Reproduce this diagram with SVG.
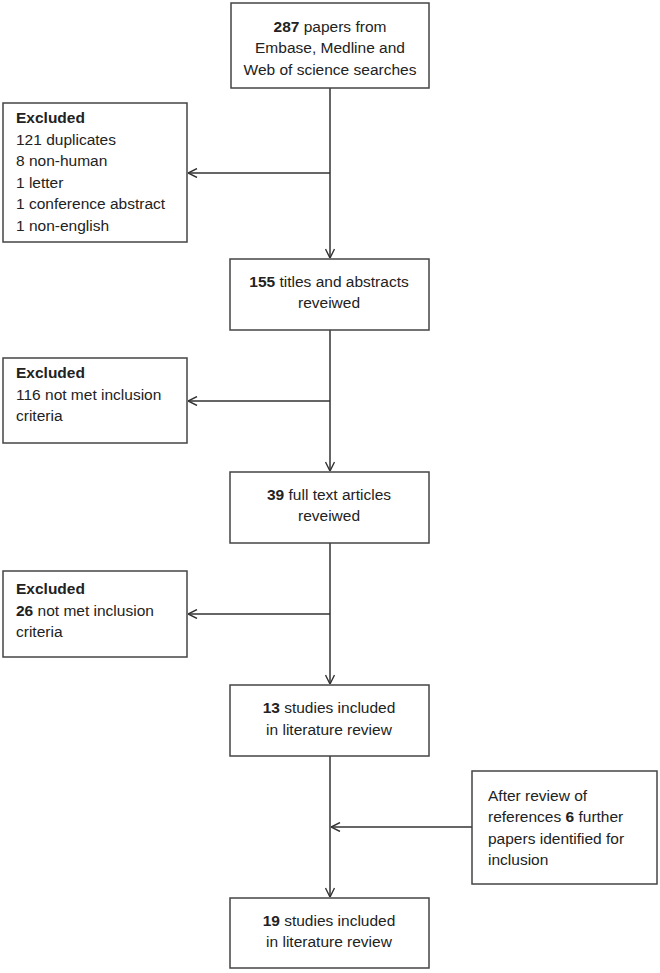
<svg xmlns="http://www.w3.org/2000/svg" width="660" height="973" viewBox="0 0 660 973">
<defs>
<marker id="arr" viewBox="0 0 10 10" refX="10" refY="5" markerWidth="10" markerHeight="10" markerUnits="userSpaceOnUse" orient="auto">
<path d="M1,0.5 L10,5 L1,9.5" fill="none" stroke="#333" stroke-width="1.4"/>
</marker>
<style>
rect{fill:#fff;stroke:#444;stroke-width:1.5}
text{font-family:"Liberation Sans",Arial,sans-serif;font-size:15.5px;fill:#222}
.c{text-anchor:middle}
.b{font-weight:bold}
#connectors line{stroke:#333;stroke-width:1.5}
</style>
</defs>
<rect x="0" y="0" width="660" height="973" style="fill:#fff;stroke:none"/>
<g id="connectors">
<line x1="330" y1="88" x2="330" y2="258" marker-end="url(#arr)"/>
<line x1="330" y1="173" x2="188" y2="173" marker-end="url(#arr)"/>
<line x1="330" y1="330" x2="330" y2="471" marker-end="url(#arr)"/>
<line x1="330" y1="401" x2="188" y2="401" marker-end="url(#arr)"/>
<line x1="330" y1="543" x2="330" y2="684" marker-end="url(#arr)"/>
<line x1="330" y1="614" x2="188" y2="614" marker-end="url(#arr)"/>
<line x1="330" y1="756" x2="330" y2="897" marker-end="url(#arr)"/>
<line x1="472" y1="827" x2="331" y2="827" marker-end="url(#arr)"/>
</g>
<g id="n1">
<rect x="231" y="3" width="198" height="85"/>
<text class="c" x="330" y="32"><tspan class="b">287</tspan> papers from</text>
<text class="c" x="330" y="53">Embase, Medline and</text>
<text class="c" x="330" y="75">Web of science searches</text>
</g>
<g id="ex1">
<rect x="3" y="103" width="184" height="139"/>
<text x="16" y="123" class="b">Excluded</text>
<text x="16" y="145">121 duplicates</text>
<text x="16" y="166">8 non-human</text>
<text x="16" y="188">1 letter</text>
<text x="16" y="209">1 conference abstract</text>
<text x="16" y="231">1 non-english</text>
</g>
<g id="n2">
<rect x="230" y="259" width="199" height="71"/>
<text class="c" x="329" y="287"><tspan class="b">155</tspan> titles and abstracts</text>
<text class="c" x="329" y="308">reveiwed</text>
</g>
<g id="ex2">
<rect x="3" y="358" width="184" height="85"/>
<text x="16" y="378" class="b">Excluded</text>
<text x="16" y="400">116 not met inclusion</text>
<text x="16" y="421">criteria</text>
</g>
<g id="n3">
<rect x="230" y="472" width="199" height="71"/>
<text class="c" x="329" y="500"><tspan class="b">39</tspan> full text articles</text>
<text class="c" x="329" y="521">reveiwed</text>
</g>
<g id="ex3">
<rect x="3" y="571" width="184" height="86"/>
<text x="16" y="594" class="b">Excluded</text>
<text x="16" y="616"><tspan class="b">26</tspan> not met inclusion</text>
<text x="16" y="637">criteria</text>
</g>
<g id="n4">
<rect x="230" y="685" width="199" height="71"/>
<text class="c" x="329" y="713"><tspan class="b">13</tspan> studies included</text>
<text class="c" x="329" y="735">in literature review</text>
</g>
<g id="side">
<rect x="472" y="771" width="185" height="113"/>
<text x="488" y="801">After review of</text>
<text x="488" y="822">references <tspan class="b">6</tspan> further</text>
<text x="488" y="844">papers identified for</text>
<text x="488" y="865">inclusion</text>
</g>
<g id="n5">
<rect x="230" y="898" width="199" height="70"/>
<text class="c" x="329" y="926"><tspan class="b">19</tspan> studies included</text>
<text class="c" x="329" y="947">in literature review</text>
</g>
</svg>
